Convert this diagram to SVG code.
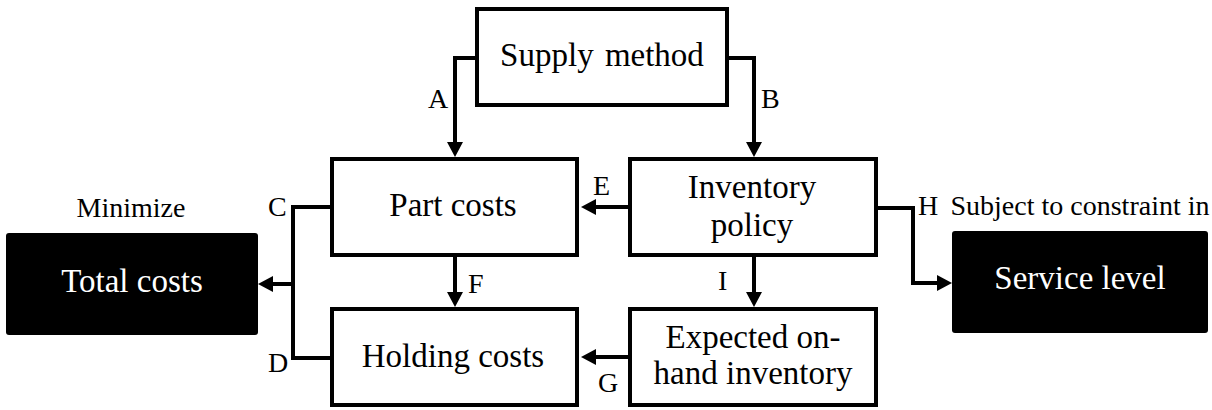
<svg xmlns="http://www.w3.org/2000/svg" width="1212" height="410" viewBox="0 0 1212 410">
<style>
  .box{fill:#fff;stroke:#000;stroke-width:4}
  .dark{fill:#000;stroke:none}
  .t{font-family:"Liberation Serif","Times New Roman",serif;font-size:33px;fill:#000;text-anchor:middle}
  .w{fill:#fff}
  .lbl{font-family:"Liberation Serif","Times New Roman",serif;font-size:28px;fill:#000}
  .note{font-family:"Liberation Serif","Times New Roman",serif;font-size:28px;fill:#000;text-anchor:middle}
  .c{fill:none;stroke:#000;stroke-width:4}
</style>
<defs>
  <marker id="arr" markerUnits="userSpaceOnUse" markerWidth="16" markerHeight="16" refX="5" refY="8" orient="auto">
    <path d="M0,0 L15,8 L0,16 z" fill="#000"/>
  </marker>
</defs>
<rect width="1212" height="410" fill="#fff"/>
<g id="connectors">
  <path class="c" d="M477 58 H455 V147" marker-end="url(#arr)"/>
  <path class="c" d="M727 58 H754 V147" marker-end="url(#arr)"/>
  <path class="c" d="M630 207 H591" marker-end="url(#arr)"/>
  <path class="c" d="M630 357 H591" marker-end="url(#arr)"/>
  <path class="c" d="M455 257 V297" marker-end="url(#arr)"/>
  <path class="c" d="M754 257 V297" marker-end="url(#arr)"/>
  <path class="c" d="M332 207 H293 V358 H332"/>
  <path class="c" d="M295 284 H268" marker-end="url(#arr)"/>
  <path class="c" d="M876 208 H913 V283 H942" marker-end="url(#arr)"/>
  <text class="lbl" x="428" y="108">A</text>
  <text class="lbl" x="761" y="108">B</text>
  <text class="lbl" x="268" y="216">C</text>
  <text class="lbl" x="268" y="372">D</text>
  <text class="lbl" x="593" y="195">E</text>
  <text class="lbl" x="468" y="293">F</text>
  <text class="lbl" x="598" y="392">G</text>
  <text class="lbl" x="918" y="215">H</text>
  <text class="lbl" x="718" y="290">I</text>
</g>
<g id="supply-method">
  <rect class="box" x="477" y="9" width="250" height="96"/>
  <text class="t" x="602" y="66" word-spacing="3">Supply method</text>
</g>
<g id="part-costs">
  <rect class="box" x="332" y="159" width="245" height="96"/>
  <text class="t" x="453" y="216">Part costs</text>
</g>
<g id="inventory-policy">
  <rect class="box" x="630" y="159" width="246" height="96"/>
  <text class="t" x="752" y="198">Inventory</text>
  <text class="t" x="752" y="236">policy</text>
</g>
<g id="holding-costs">
  <rect class="box" x="332" y="309" width="245" height="96"/>
  <text class="t" x="453" y="367">Holding costs</text>
</g>
<g id="expected-on-hand-inventory">
  <rect class="box" x="630" y="309" width="246" height="96"/>
  <text class="t" x="753" y="348">Expected on-</text>
  <text class="t" x="753" y="384">hand inventory</text>
</g>
<g id="total-costs">
  <text class="note" x="131" y="217">Minimize</text>
  <rect class="dark" x="6" y="233" width="252" height="102" rx="3"/>
  <text class="t w" x="132" y="292">Total costs</text>
</g>
<g id="service-level">
  <text class="note" x="1080" y="215" font-size="27.5">Subject to constraint in</text>
  <rect class="dark" x="952" y="231" width="256" height="102" rx="3"/>
  <text class="t w" x="1080" y="289">Service level</text>
</g>
</svg>
